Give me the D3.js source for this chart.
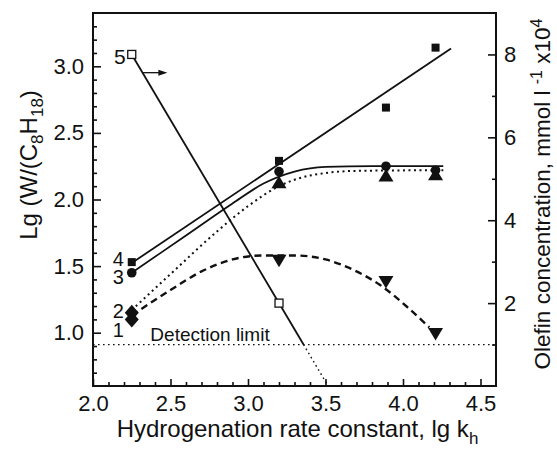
<!DOCTYPE html>
<html><head><meta charset="utf-8">
<script src="https://cdn.jsdelivr.net/npm/d3@7"></script>
<style>
body{margin:0;background:#fff}
svg{display:block}
text{font-family:"Liberation Sans",Arial,Helvetica,sans-serif;fill:#111}
</style>
</head><body><svg id="chart" width="557" height="450"></svg>
<script>
// ---------- data ----------
const xTicks = [2.0, 2.5, 3.0, 3.5, 4.0, 4.5];
const xMinor = [2.1,2.2,2.3,2.4,2.6,2.7,2.8,2.9,3.1,3.2,3.3,3.4,3.6,3.7,3.8,3.9,4.1,4.2,4.3,4.4];
const yLeftTicks = [1.0, 1.5, 2.0, 2.5, 3.0];
const yLeftMinor = [0.7,0.8,0.9,1.1,1.2,1.3,1.4,1.6,1.7,1.8,1.9,2.1,2.2,2.3,2.4,2.6,2.7,2.8,2.9,3.1,3.2,3.3];
const yRightTicks = [2, 4, 6, 8];
const yRightMinor = [1, 3, 5, 7];

const lgkh = [2.25, 3.2, 3.89, 4.21];
const series4 = [1.53, 2.29, 2.69, 3.14];      // filled squares
const series3 = [1.45, 2.21, 2.25, 2.22];      // filled circles
const triUpX = [3.2, 3.89, 4.21];
const triUpY = [2.13, 2.18, 2.19];             // filled triangles up
const triDownX = [3.2, 3.89, 4.21];
const triDownY = [1.54, 1.38, 0.99];           // filled triangles down
const diamondX = [2.25, 2.25];
const diamondY = [1.15, 1.10];                 // filled diamonds
const olefinX = [2.25, 3.2];
const olefinY = [8.0, 2.0];                    // open squares, right axis
const detectionLimit = 1.0;                    // right axis units

const fit4Extent = [2.25, 4.31];
const curve3X = [2.25, 2.6, 2.9, 3.1, 3.3, 3.5, 3.8, 4.26];
const curve3Y = [1.45, 1.73, 1.97, 2.12, 2.21, 2.245, 2.25, 2.25];
const curve2X = [2.25, 2.5, 2.8, 3.0, 3.2, 3.4, 3.7, 4.26];
const curve2Y = [1.17, 1.44, 1.76, 1.95, 2.10, 2.18, 2.215, 2.22];
const curve1X = [2.25, 2.5, 2.7, 2.9, 3.1, 3.3, 3.5, 3.7, 3.85, 4.03, 4.17];
const curve1Y = [1.13, 1.32, 1.46, 1.55, 1.58, 1.58, 1.55, 1.46, 1.36, 1.19, 1.04];

const curveLabels = ["4", "3", "2", "1"];
const curveLabelY = [1.55, 1.42, 1.16, 1.02];
const arrowX = [2.32, 2.48];
const arrowY = 7.56;
const detectionTextX = 2.37;

// ---------- layout ----------
const W = 557, H = 450;
const m = {l: 93, r: 61, t: 13, b: 64};
const svg = d3.select("#chart");
const x = d3.scaleLinear().domain([2.0, 4.6]).range([m.l, W - m.r]);
const yL = d3.scaleLinear().domain([0.6, 3.4]).range([H - m.b, m.t]);
const yR = d3.scaleLinear().domain([0, 9]).range([H - m.b, m.t]);
const ink = "#111";

// ---------- axes ----------
function styleAxis(g) {
  g.select(".domain").remove();
  g.selectAll("line").attr("stroke", ink).attr("stroke-width", 1.6);
  g.selectAll("text").attr("font-size", 22).attr("fill", ink);
}
svg.append("g").attr("transform", `translate(0,${H - m.b})`)
  .call(d3.axisBottom(x).tickValues(xTicks).tickSize(-7).tickPadding(9.5).tickFormat(d3.format(".1f")))
  .call(styleAxis);
svg.append("g").attr("transform", `translate(0,${H - m.b})`)
  .call(d3.axisBottom(x).tickValues(xMinor).tickSize(-4).tickFormat(""))
  .call(styleAxis);
svg.append("g").attr("transform", `translate(${m.l},0)`)
  .call(d3.axisLeft(yL).tickValues(yLeftTicks).tickSize(-8).tickPadding(9).tickFormat(d3.format(".1f")))
  .call(styleAxis);
svg.append("g").attr("transform", `translate(${m.l},0)`)
  .call(d3.axisLeft(yL).tickValues(yLeftMinor).tickSize(-4).tickFormat(""))
  .call(styleAxis);
svg.append("g").attr("transform", `translate(${W - m.r},0)`)
  .call(d3.axisRight(yR).tickValues(yRightTicks).tickSize(-8).tickPadding(8).tickFormat(d3.format("d")))
  .call(styleAxis);
svg.append("g").attr("transform", `translate(${W - m.r},0)`)
  .call(d3.axisRight(yR).tickValues(yRightMinor).tickSize(-4).tickFormat(""))
  .call(styleAxis);

// frame
svg.append("rect").attr("x", m.l).attr("y", m.t)
  .attr("width", W - m.l - m.r).attr("height", H - m.t - m.b)
  .attr("fill", "none").attr("stroke", ink).attr("stroke-width", 2);

// ---------- lines ----------
const plot = svg.append("g");
plot.append("line").attr("x1", x(2.0)).attr("x2", x(4.6))
  .attr("y1", yR(detectionLimit)).attr("y2", yR(detectionLimit))
  .attr("stroke", ink).attr("stroke-width", 1.3).attr("stroke-dasharray", "1.6,3.4");

// linear regression for series 4
const mx = d3.mean(lgkh), my = d3.mean(series4);
const slope = d3.sum(lgkh, (d, i) => (d - mx) * (series4[i] - my)) / d3.sum(lgkh, d => (d - mx) ** 2);
const icpt = my - slope * mx;
plot.append("line")
  .attr("x1", x(fit4Extent[0])).attr("y1", yL(icpt + slope * fit4Extent[0]))
  .attr("x2", x(fit4Extent[1])).attr("y2", yL(icpt + slope * fit4Extent[1]))
  .attr("stroke", ink).attr("stroke-width", 1.8);

const lineL = d3.line().x(d => x(d[0])).y(d => yL(d[1])).curve(d3.curveMonotoneX);
plot.append("path").attr("d", lineL(curve3X.map((d, i) => [d, curve3Y[i]])))
  .attr("fill", "none").attr("stroke", ink).attr("stroke-width", 1.8);
plot.append("path").attr("d", lineL(curve2X.map((d, i) => [d, curve2Y[i]])))
  .attr("fill", "none").attr("stroke", ink).attr("stroke-width", 2).attr("stroke-dasharray", "2,3.5");
plot.append("path").attr("d", lineL(curve1X.map((d, i) => [d, curve1Y[i]])))
  .attr("fill", "none").attr("stroke", ink).attr("stroke-width", 2.4).attr("stroke-dasharray", "7,4.5");

// series 5: olefin line (solid above detection limit, dotted below)
const s5slope = (olefinY[1] - olefinY[0]) / (olefinX[1] - olefinX[0]);
const xAt = v => olefinX[0] + (v - olefinY[0]) / s5slope;
const xDet = xAt(detectionLimit), xZero = xAt(0);
plot.append("line").attr("x1", x(olefinX[0])).attr("y1", yR(olefinY[0]))
  .attr("x2", x(xDet)).attr("y2", yR(detectionLimit))
  .attr("stroke", ink).attr("stroke-width", 1.8);
plot.append("line").attr("x1", x(xDet)).attr("y1", yR(detectionLimit))
  .attr("x2", x(xZero)).attr("y2", yR(0))
  .attr("stroke", ink).attr("stroke-width", 1.4).attr("stroke-dasharray", "1.6,3.2");

// arrow
plot.append("line").attr("x1", x(arrowX[0])).attr("x2", x(arrowX[1]) - 6)
  .attr("y1", yR(arrowY)).attr("y2", yR(arrowY)).attr("stroke", ink).attr("stroke-width", 1.3);
const ax = x(arrowX[1]), ay = yR(arrowY);
plot.append("path").attr("d", `M${ax},${ay}L${ax - 9},${ay - 3}L${ax - 9},${ay + 3}Z`).attr("fill", ink);

// ---------- markers ----------
const mk = svg.append("g").attr("fill", ink);
lgkh.forEach((d, i) => {
  mk.append("circle").attr("cx", x(d)).attr("cy", yL(series3[i])).attr("r", 4.8);
});
triUpX.forEach((d, i) => {
  const cx = x(d), cy = yL(triUpY[i]);
  mk.append("path").attr("d", `M${cx},${cy - 6.5}L${cx + 7.5},${cy + 6}L${cx - 7.5},${cy + 6}Z`);
});
triDownX.forEach((d, i) => {
  const cx = x(d), cy = yL(triDownY[i]);
  mk.append("path").attr("d", `M${cx},${cy + 6.5}L${cx + 7.5},${cy - 6}L${cx - 7.5},${cy - 6}Z`);
});
diamondX.forEach((d, i) => {
  const cx = x(d), cy = yL(diamondY[i]);
  mk.append("path").attr("d", `M${cx},${cy - 8}L${cx + 7},${cy}L${cx},${cy + 8}L${cx - 7},${cy}Z`);
});
lgkh.forEach((d, i) => {
  mk.append("rect").attr("x", x(d) - 4).attr("y", yL(series4[i]) - 4).attr("width", 8).attr("height", 8);
});
olefinX.forEach((d, i) => {
  svg.append("rect").attr("x", x(d) - 4).attr("y", yR(olefinY[i]) - 4).attr("width", 8).attr("height", 8)
    .attr("fill", "#fff").attr("stroke", ink).attr("stroke-width", 1.3);
});

// ---------- labels ----------
curveLabels.forEach((t, i) => {
  svg.append("text").attr("x", x(2.25) - 8).attr("y", yL(curveLabelY[i])).attr("dy", "0.35em")
    .attr("text-anchor", "end").attr("font-size", 20).text(t);
});
svg.append("text").attr("x", x(olefinX[0]) - 6).attr("y", yR(olefinY[0]) + 2).attr("dy", "0.35em")
  .attr("text-anchor", "end").attr("font-size", 21).text("5");
svg.append("text").attr("x", x(detectionTextX)).attr("y", yR(detectionLimit) - 4)
  .attr("font-size", 19).text("Detection limit");

// axis titles
const bt = svg.append("text").attr("x", (m.l + W - m.r) / 2 + 3).attr("y", 437)
  .attr("text-anchor", "middle").attr("font-size", 24);
bt.append("tspan").text("Hydrogenation rate constant, lg k");
bt.append("tspan").attr("font-size", 17).attr("dy", 7).text("h");

const lt = svg.append("text").attr("transform", `translate(37,165) rotate(-90)`)
  .attr("text-anchor", "middle").attr("font-size", 24);
lt.append("tspan").text("Lg (W/(C");
lt.append("tspan").attr("font-size", 17).attr("dy", 6).text("8");
lt.append("tspan").attr("dy", -6).text("H");
lt.append("tspan").attr("font-size", 17).attr("dy", 6).text("18");
lt.append("tspan").attr("dy", -6).text(")");

const rt = svg.append("text").attr("transform", `translate(550,194) rotate(-90)`)
  .attr("text-anchor", "middle").attr("font-size", 22.5);
rt.append("tspan").text("Olefin concentration, mmol l ");
rt.append("tspan").attr("font-size", 16).attr("dy", -8).text("-1");
rt.append("tspan").attr("dy", 8).text("  x10");
rt.append("tspan").attr("font-size", 16).attr("dy", -8).text("4");
</script>
</body></html>
